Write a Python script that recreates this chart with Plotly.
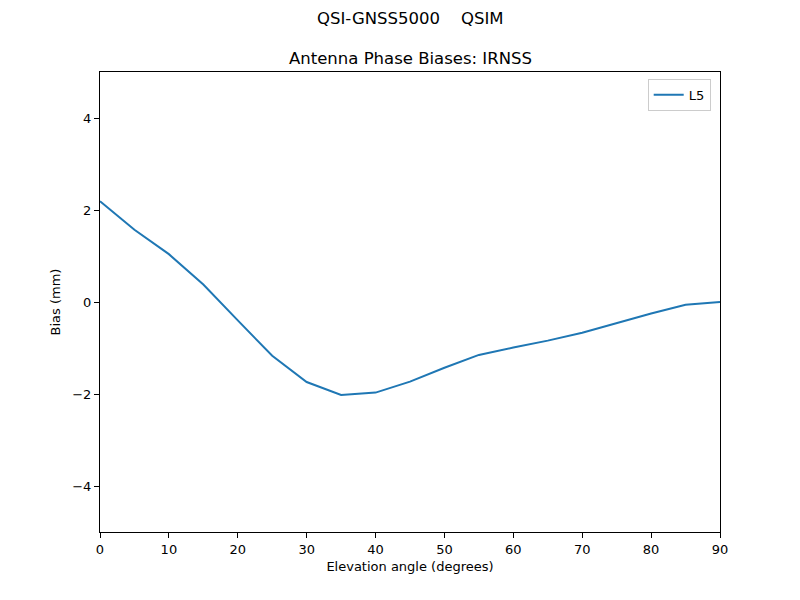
import plotly.graph_objects as go

# elevation angles and L5 bias values
elevation = [0, 5, 10, 15, 20, 25, 30, 35, 40, 45, 50, 55, 60, 65, 70, 75, 80, 85, 90]
bias_l5 = [2.19, 1.57, 1.04, 0.38, -0.40, -1.17, -1.74, -2.02, -1.97, -1.73, -1.43,
           -1.15, -0.99, -0.84, -0.67, -0.46, -0.25, -0.06, 0.0]

font = "DejaVu Sans, sans-serif"

fig = go.Figure()
fig.add_trace(go.Scatter(x=elevation, y=bias_l5, mode="lines", name="L5",
                         line=dict(color="#1f77b4", width=2)))

axis_style = dict(showgrid=False, zeroline=False, showline=True, linecolor="black",
                  linewidth=1, mirror=True, ticks="outside", ticklen=5,
                  tickcolor="black", tickfont=dict(size=13, color="black", family=font))

fig.update_layout(
    width=800, height=600,
    margin=dict(l=92, r=88, t=64, b=76),
    plot_bgcolor="white", paper_bgcolor="white",
    font=dict(family=font, color="black"),
    showlegend=True,
    legend=dict(x=0.985, y=0.985, xanchor="right", yanchor="top",
                bgcolor="white", bordercolor="#cccccc", borderwidth=1,
                font=dict(size=13), tracegroupgap=0,
                itemwidth=30),
    xaxis=dict(range=[0, 90], dtick=10,
               title=dict(text="Elevation angle (degrees)", font=dict(size=13), standoff=6),
               **axis_style),
    yaxis=dict(range=[-5, 5], dtick=2,
               title=dict(text="Bias (mm)", font=dict(size=13), standoff=8),
               **axis_style),
)

# figure-level title and axes title placed above the plot
fig.add_annotation(text="QSI-GNSS5000    QSIM", xref="paper", yref="paper",
                   x=0.5, y=1.0, yshift=54, showarrow=False, font=dict(size=16.5),
                   yanchor="middle", xanchor="center")
fig.add_annotation(text="Antenna Phase Biases: IRNSS", xref="paper", yref="paper",
                   x=0.5, y=1.0, yshift=14, showarrow=False, font=dict(size=16.5),
                   yanchor="middle", xanchor="center")

fig.write_html("out.html")
